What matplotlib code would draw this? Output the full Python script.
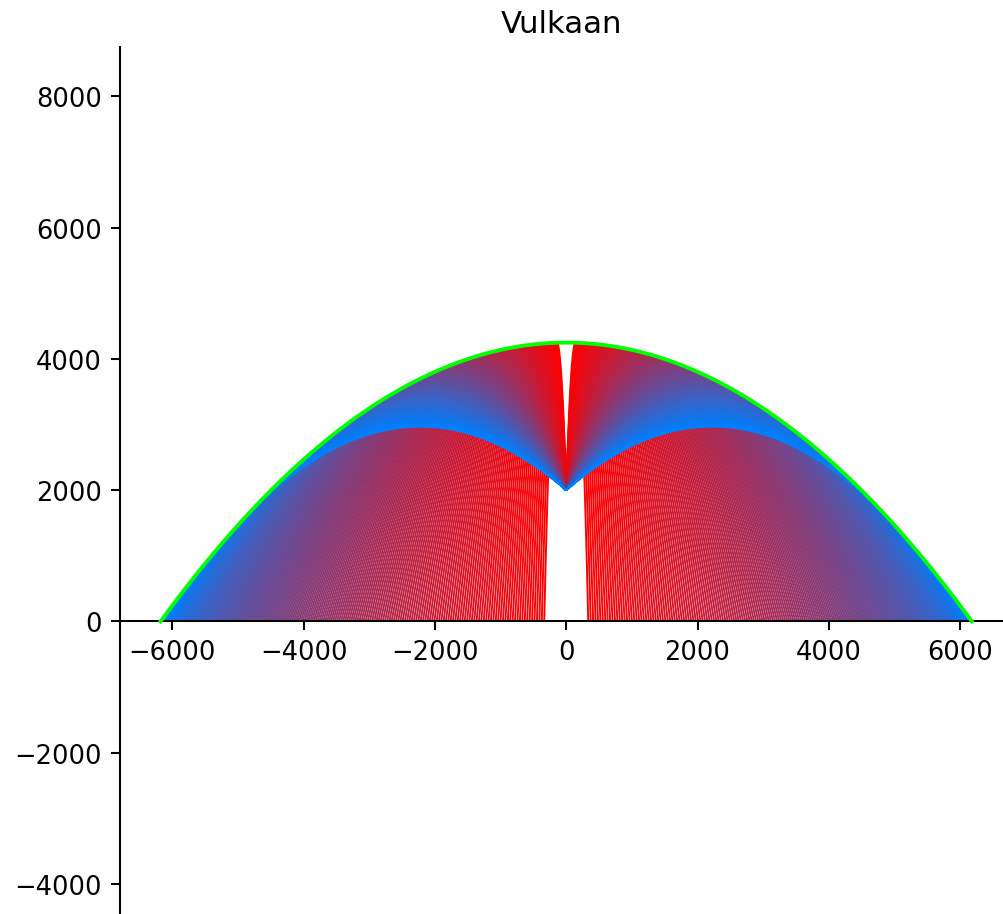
import numpy as np
import matplotlib.pyplot as plt
from matplotlib.collections import LineCollection

# launch parameters
launch_height = 2000.0      # crater height (m)
launch_speed = 210.0        # muzzle speed (m/s)
gravity = 9.81
angle_min = 41.0            # shallowest launch angle (deg)
angle_max = 88.3            # steepest launch angle (deg)
angle_step = 0.2

x_ticks = [-6000, -4000, -2000, 0, 2000, 4000, 6000]
y_ticks = [-4000, -2000, 0, 2000, 4000, 6000, 8000]

color_shallow = np.array([0.0, 0.5, 1.0])
color_steep = np.array([1.0, 0.0, 0.0])

DPI = 185


def trajectory(theta_deg, side, n=250):
    th = np.radians(theta_deg)
    vx = launch_speed * np.cos(th)
    vy = launch_speed * np.sin(th)
    t_land = (vy + np.sqrt(vy**2 + 2 * gravity * launch_height)) / gravity
    t = np.linspace(0, t_land, n)
    x = side * vx * t
    y = launch_height + vy * t - 0.5 * gravity * t**2
    return np.column_stack((x, y))


fig = plt.figure(figsize=(1003 / DPI, 915 / DPI), dpi=DPI)
ax = fig.add_axes([120 / 1003, 0.0, 883 / 1003, 867 / 915])

angles = np.arange(angle_min, angle_max + 1e-9, angle_step)[::-1]   # steep first, shallow on top
segs, cols = [], []
for a in angles:
    frac = (a - angle_min) / (angle_max - angle_min)
    c = (1 - frac) * color_shallow + frac * color_steep
    for side in (-1, 1):
        segs.append(trajectory(a, side))
        cols.append(c)
ax.add_collection(LineCollection(segs, colors=cols, linewidths=0.75))

# envelope of all possible trajectories
top = launch_height + launch_speed**2 / (2 * gravity)
reach = np.sqrt(2 * top * launch_speed**2 / gravity)
xe = np.linspace(-reach, reach, 600)
ye = top - gravity * xe**2 / (2 * launch_speed**2)
ax.plot(xe, ye, color='#00ff00', lw=1.5, zorder=5)

ax.set_xlim(-6798, 6654)
ax.set_ylim(-4457, 8751)
ax.set_xticks(x_ticks)
ax.set_yticks(y_ticks)
ax.spines['bottom'].set_position('zero')
ax.spines['top'].set_visible(False)
ax.spines['right'].set_visible(False)
ax.set_title('Vulkaan')

fig.savefig('out.png', dpi=DPI)
